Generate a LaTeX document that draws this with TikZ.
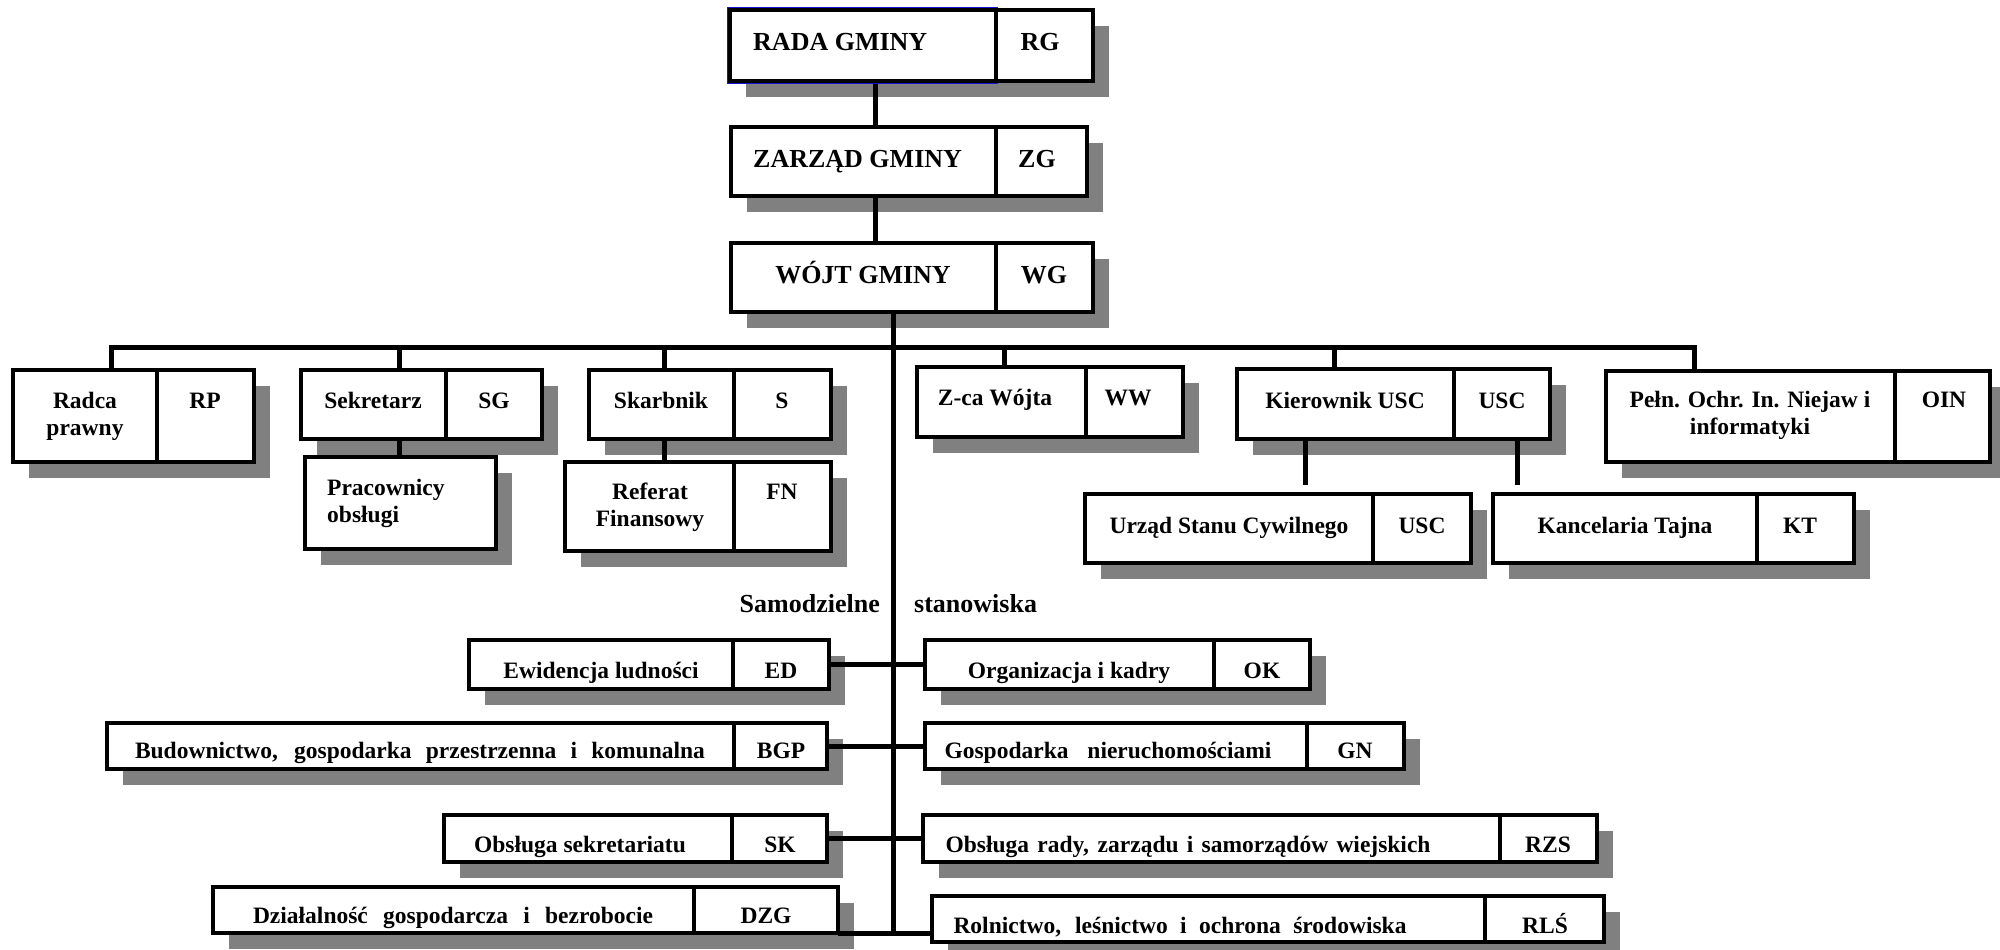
\documentclass[tikz,border=0pt]{standalone}
\usepackage{fontspec}
\setmainfont{Liberation Serif}
\pgfdeclarelayer{shadowlayer}
\pgfdeclarelayer{connlayer}
\pgfsetlayers{shadowlayer,connlayer,main}
\definecolor{shadowgray}{RGB}{128,128,128}
\definecolor{rgblue}{RGB}{20,20,210}
\tikzset{
  orgbox/.style={draw=black, line width=3.5pt, fill=white, inner sep=0pt, outer sep=0pt},
  divline/.style={line width=3.5pt},
  conn/.style={line width=5pt},
  bigtxt/.style={font=\fontsize{26}{30}\selectfont\bfseries, inner sep=0pt},
  smalltxt/.style={font=\fontsize{23.5}{27}\selectfont\bfseries, inner sep=0pt},
}
\newcommand\obox[6]{%
  \begin{pgfonlayer}{shadowlayer}
    \fill[shadowgray] ({#2+16},{#3+16}) rectangle ({#4+16},{#5+16});
  \end{pgfonlayer}
  \node[orgbox, minimum width={#4-#2}, minimum height={#5-#3}] (#1) at ({(#2+#4)/2},{(#3+#5)/2}) {};
  \draw[divline] (#6,#3) -- (#6,#5);}
\newcommand\twol[1]{\begin{tabular}[t]{@{}c@{}}#1\end{tabular}}
\newcommand\twoleft[1]{\begin{tabular}[t]{@{}l@{}}#1\end{tabular}}
\begin{document}
\begin{tikzpicture}[x=1pt,y=-1pt]
\useasboundingbox (0,0) rectangle (2000,950);
% blue outline of the top cell
\draw[rgblue, line width=1.5pt] (727.5,7.5) rectangle (997,83.5);
% boxes
\obox{rg}{730}{10}{1093}{81}{996}
\obox{zg}{731}{127}{1087}{196}{996}
\obox{wg}{731}{243}{1093}{312}{996}
\obox{rp}{13}{370}{254}{462}{157}
\obox{sg}{301}{370}{542}{439}{446}
\obox{po}{305}{457}{496}{549}{305}
\obox{s}{589}{370}{831}{439}{734}
\obox{fn}{565}{462}{831}{551}{734}
\obox{ww}{917}{367}{1183}{437}{1086}
\obox{kusc}{1237}{369}{1550}{439}{1454}
\obox{oin}{1606}{371}{1990}{462}{1895}
\obox{usc}{1085}{494}{1471}{563}{1373}
\obox{kt}{1493}{494}{1854}{563}{1757}
\obox{ed}{469}{640}{829}{689}{733}
\obox{ok}{925}{640}{1310}{689}{1214}
\obox{bgp}{107}{723}{827}{769}{734}
\obox{gn}{925}{723}{1404}{769}{1307}
\obox{sk}{444}{815}{827}{862}{732}
\obox{rzs}{923}{815}{1597}{862}{1500}
\obox{dzg}{213}{887}{838}{933}{694}
\obox{rls}{932}{896}{1604}{942}{1485}
% connectors
\coordinate (c1) at (875,0);
\coordinate (trunk) at (893,933);
\coordinate (busL) at (111,347);
\coordinate (busR) at (1694,347);
\coordinate (dsg) at (399,347);
\coordinate (ds) at (664,347);
\coordinate (dww) at (1004,347);
\coordinate (dk) at (1334,347);
\coordinate (k1) at (1305,485);
\coordinate (k2) at (1517,485);
\begin{pgfonlayer}{connlayer}
  \draw[conn] (rg.south -| c1) -- (zg.north -| c1);
  \draw[conn] (zg.south -| c1) -- (wg.north -| c1);
  \draw[conn] (wg.south -| trunk) -- (trunk);
  \draw[conn] (busL |- rp.north) -- (busL) -- (busR) -- (busR |- oin.north);
  \draw[conn] (dsg) -- (dsg |- sg.north);
  \draw[conn] (sg.south -| dsg) -- (po.north -| dsg);
  \draw[conn] (ds) -- (ds |- s.north);
  \draw[conn] (s.south -| ds) -- (fn.north -| ds);
  \draw[conn] (dww) -- (dww |- ww.north);
  \draw[conn] (dk) -- (dk |- kusc.north);
  \draw[conn] (kusc.south -| k1) -- (k1);
  \draw[conn] (kusc.south -| k2) -- (k2);
  \draw[conn] (ed) -- (ok);
  \draw[conn] (bgp) -- (gn);
  \draw[conn] (sk) -- (rzs);
  \draw[conn] (dzg.south east) -- (dzg.south east -| rls.west);
\end{pgfonlayer}
% texts: top
\node[bigtxt, anchor=base west] (trg) at (753,51) {RADA GMINY};
\node[bigtxt, anchor=base] (trg2) at (1040,51) {RG};
\node[bigtxt, anchor=base west] (tzg) at (753,167) {ZARZĄD GMINY};
\node[bigtxt, anchor=base] (tzg2) at (1037,167) {ZG};
\node[bigtxt, anchor=base] (twg) at (863,283) {WÓJT GMINY};
\node[bigtxt, anchor=base] (twg2) at (1044,283) {WG};
% second row
\node[smalltxt, anchor=base] (trp) at (85,408) {\twol{Radca\\prawny}};
\node[smalltxt, anchor=base] (trp2) at (205,408) {RP};
\node[smalltxt, anchor=base] (tsg) at (373,408) {Sekretarz};
\node[smalltxt, anchor=base] (tsg2) at (494,408) {SG};
\node[smalltxt, anchor=base west] (tpo) at (327,495) {\twoleft{Pracownicy\\obsługi}};
\node[smalltxt, anchor=base] (ts) at (661,408) {Skarbnik};
\node[smalltxt, anchor=base] (ts2) at (782,408) {S};
\node[smalltxt, anchor=base] (tfn) at (650,499) {\twol{Referat\\Finansowy}};
\node[smalltxt, anchor=base] (tfn2) at (782,499) {FN};
\node[smalltxt, anchor=base] (tww) at (995,405) {Z-ca Wójta};
\node[smalltxt, anchor=base] (tww2) at (1128,405) {WW};
\node[smalltxt, anchor=base] (tk) at (1345,408) {Kierownik USC};
\node[smalltxt, anchor=base] (tk2) at (1502,408) {USC};
\node[smalltxt, anchor=base] (toin) at (1750,407) {\twol{Pełn. Ochr. In. Niejaw i\\informatyki}};
\node[smalltxt, anchor=base] (toin2) at (1944,407) {OIN};
\node[smalltxt, anchor=base] (tusc) at (1229,533) {Urząd Stanu Cywilnego};
\node[smalltxt, anchor=base] (tusc2) at (1422,533) {USC};
\node[smalltxt, anchor=base] (tkt) at (1625,533) {Kancelaria Tajna};
\node[smalltxt, anchor=base] (tkt2) at (1800,533) {KT};
% middle labels
\node[bigtxt, anchor=base east] (lsam) at (880,612) {Samodzielne};
\node[bigtxt, anchor=base west] (lsta) at (914,612) {stanowiska};
% bottom boxes
\node[smalltxt, anchor=base] (ted) at (601,678) {Ewidencja ludności};
\node[smalltxt, anchor=base] (ted2) at (781,678) {ED};
\node[smalltxt, anchor=base] (tok) at (1069,678) {Organizacja i kadry};
\node[smalltxt, anchor=base] (tok2) at (1262,678) {OK};
\node[smalltxt, anchor=base] (tbgp) at (420,758) {\makebox[570pt][s]{Budownictwo, gospodarka przestrzenna i komunalna}};
\node[smalltxt, anchor=base] (tbgp2) at (781,758) {BGP};
\node[smalltxt, anchor=base] (tgn) at (1108,758) {\makebox[327pt][s]{Gospodarka nieruchomościami}};
\node[smalltxt, anchor=base] (tgn2) at (1355,758) {GN};
\node[smalltxt, anchor=base] (tsk) at (580,852) {Obsługa sekretariatu};
\node[smalltxt, anchor=base] (tsk2) at (780,852) {SK};
\node[smalltxt, anchor=base] (trzs) at (1188,852) {\makebox[485pt][s]{Obsługa rady, zarządu i samorządów wiejskich}};
\node[smalltxt, anchor=base] (trzs2) at (1548,852) {RZS};
\node[smalltxt, anchor=base] (tdzg) at (453,923) {\makebox[400pt][s]{Działalność gospodarcza i bezrobocie}};
\node[smalltxt, anchor=base] (tdzg2) at (766,923) {DZG};
\node[smalltxt, anchor=base] (trls) at (1180,933) {\makebox[453pt][s]{Rolnictwo, leśnictwo i ochrona środowiska}};
\node[smalltxt, anchor=base] (trls2) at (1545,933) {RLŚ};
\end{tikzpicture}
\end{document}
